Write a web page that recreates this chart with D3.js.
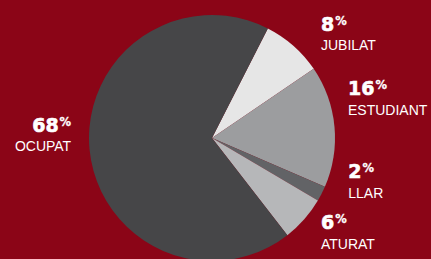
<!DOCTYPE html>
<html>
<head>
<meta charset="utf-8">
<script src="https://cdn.jsdelivr.net/npm/d3@7"></script>
<style>
  body { margin: 0; background: #8b0517; }
  svg { display: block; }
</style>
</head>
<body>
<svg width="431" height="259"></svg>
<script>
/* data */
var categories = ["JUBILAT", "ESTUDIANT", "LLAR", "ATURAT", "OCUPAT"];
var values = [8, 16, 2, 6, 68];
var colors = ["#e6e6e6", "#9c9d9f", "#626366", "#b6b7b9", "#464648"];

// where each label sits, as angle (deg, clockwise from top) and radius
var labelAngle = [45.4, 72.6, 106.4, 129.9, -87.4];
var labelRadius = [153, 142.5, 142, 142, 141];

var svg = d3.select("svg"),
    w = +svg.attr("width"),
    h = +svg.attr("height"),
    cx = 212, cy = 138,
    radius = 123;

var startAngle = 27 * Math.PI / 180;

var data = categories.map(function(c, i) {
  return { name: c, value: values[i], color: colors[i], la: labelAngle[i], lr: labelRadius[i] };
});

svg.append("rect")
    .attr("width", w)
    .attr("height", h)
    .attr("fill", "#8b0517");

var pie = d3.pie()
    .sort(null)
    .startAngle(startAngle)
    .endAngle(startAngle + 2 * Math.PI)
    .value(function(d) { return d.value; });

var arc = d3.arc()
    .innerRadius(0)
    .outerRadius(radius);

var g = svg.append("g")
    .attr("transform", "translate(" + cx + "," + cy + ")");

g.selectAll("path")
  .data(pie(data))
  .enter().append("path")
    .attr("d", arc)
    .attr("fill", function(d) { return d.data.color; });

// labels
var labels = g.selectAll(".label")
  .data(data)
  .enter().append("g")
    .attr("class", "label")
    .attr("transform", function(d) {
      var a = d.la * Math.PI / 180;
      var p = d3.arc().innerRadius(d.lr).outerRadius(d.lr).startAngle(a).endAngle(a).centroid();
      return "translate(" + p[0] + "," + p[1] + ")";
    });

var pct = labels.append("text")
    .attr("text-anchor", function(d) { return d.la < 0 ? "end" : "start"; })
    .attr("fill", "#fff")
    .attr("stroke", "#fff")
    .attr("stroke-width", 0.6)
    .style("font-family", "'DejaVu Sans', sans-serif")
    .style("font-weight", "bold")
    .style("font-size", "19px");

pct.append("tspan")
    .text(function(d) { return d.value; });

pct.append("tspan")
    .attr("dy", -6)
    .attr("dx", 1)
    .attr("stroke-width", 0.3)
    .style("font-size", "11.5px")
    .text("%");

labels.append("text")
    .attr("y", 19.5)
    .attr("text-anchor", function(d) { return d.la < 0 ? "end" : "start"; })
    .attr("fill", "#fff")
    .style("font-family", "'Liberation Sans', Arial, sans-serif")
    .style("font-size", "14px")
    .text(function(d) { return d.name; });
</script>
</body>
</html>
